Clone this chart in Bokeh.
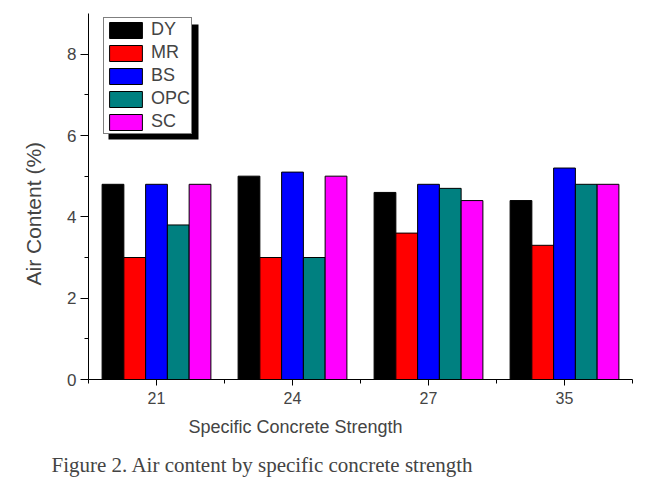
from bokeh.plotting import figure
from bokeh.models import (Legend, LegendItem, FixedTicker, Range1d, Title,
                          BoxAnnotation, ColumnDataSource)
from bokeh.embed import file_html
from bokeh.resources import INLINE

strengths = ["21", "24", "27", "35"]
series = ["DY", "MR", "BS", "OPC", "SC"]
DY = [4.8, 5.0, 4.6, 4.4]
MR = [3.0, 3.0, 3.6, 3.3]
BS = [4.8, 5.1, 4.8, 5.2]
OPC = [3.8, 3.0, 4.7, 4.8]
SC = [4.8, 5.0, 4.4, 4.8]
values = [DY, MR, BS, OPC, SC]
colors = ["#000000", "#FF0000", "#0000FF", "#008080", "#FF00FF"]
y_ticks = [0, 2, 4, 6, 8]

W, H = 647, 489
p = figure(width=W, height=H, output_backend="svg", toolbar_location=None,
           x_range=Range1d(0, len(strengths)), y_range=Range1d(0, 9),
           min_border_left=87, min_border_right=15, min_border_top=13,
           min_border_bottom=110)
p.outline_line_color = None
p.xgrid.visible = False
p.ygrid.visible = False
p.background_fill_color = "white"
p.border_fill_color = "white"

bar_w = 0.16
offsets = [(-2 + k) * bar_w for k in range(len(series))]
items = []
for k, name in enumerate(series):
    src = ColumnDataSource(dict(x=[i + 0.5 + offsets[k] for i in range(len(strengths))],
                                top=values[k]))
    r = p.vbar(x="x", top="top", bottom=0, width=bar_w, source=src,
               fill_color=colors[k], line_color="black", line_width=1)
    items.append(LegendItem(label=name, renderers=[r]))

# x axis
xa = p.xaxis[0]
xa.ticker = FixedTicker(ticks=[i + 0.5 for i in range(len(strengths))],
                        minor_ticks=list(range(len(strengths) + 1)))
xa.major_label_overrides = {i + 0.5: s for i, s in enumerate(strengths)}
xa.major_tick_out = 6
xa.major_tick_in = 0
xa.minor_tick_out = 4
xa.minor_tick_in = 0
xa.major_label_text_font = "Liberation Sans"
xa.major_label_text_font_size = "16px"
xa.major_label_standoff = 6
xa.axis_line_color = "black"

# y axis
ya = p.yaxis[0]
ya.ticker = FixedTicker(ticks=y_ticks, minor_ticks=[1, 3, 5, 7])
ya.major_tick_out = 8
ya.major_tick_in = 0
ya.minor_tick_out = 4
ya.minor_tick_in = 0
ya.major_label_text_font = "Liberation Sans"
ya.major_label_text_font_size = "17px"
ya.major_label_standoff = 4

# y label as a title on the left (placed a little below centre, like the original)
p.add_layout(Title(text="Air Content (%)", align="left", offset=94,
                   text_font="Liberation Sans", text_font_size="21px",
                   text_font_style="normal", standoff=39), "left")

# x label and caption as titles below
p.add_layout(Title(text="Specific Concrete Strength", align="left", offset=100,
                   text_font="Liberation Sans", text_font_size="18px",
                   text_font_style="normal", standoff=17), "below")
p.add_layout(Title(text="Figure 2. Air content by specific concrete strength",
                   align="left", offset=-37, text_font="Liberation Serif",
                   text_font_size="21px", text_font_style="normal", standoff=10), "below")

# legend shadow (frame-relative screen units)
shadow = BoxAnnotation(left=20, right=110, top=355, bottom=240,
                       left_units="screen", right_units="screen",
                       top_units="screen", bottom_units="screen",
                       fill_color="black", fill_alpha=1.0, line_color=None)
p.add_layout(shadow)

legend = Legend(items=items, location=(15, 245), orientation="vertical",
                glyph_width=41, glyph_height=20, label_height=20, spacing=2,
                padding=1, margin=0, label_standoff=5,
                label_text_font="Liberation Sans", label_text_font_size="18px",
                border_line_color="black", border_line_width=1,
                background_fill_color="white", background_fill_alpha=1.0)
p.add_layout(legend)

open("out.html", "w").write(file_html(p, INLINE))
